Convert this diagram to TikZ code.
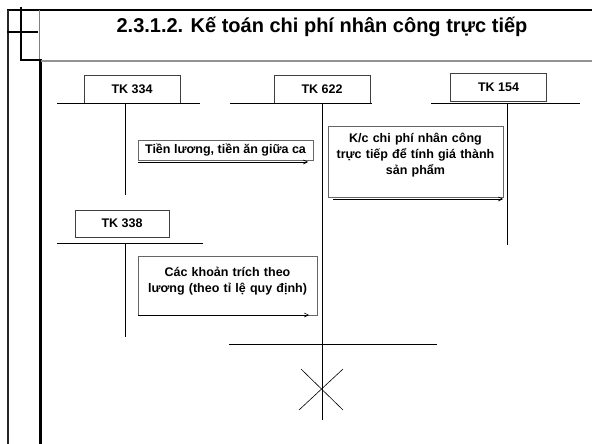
\documentclass[tikz,border=0pt]{standalone}
\usepackage{fontspec}
\setmainfont{Liberation Sans}
\usetikzlibrary{arrows.meta}
\tikzset{
  tkbox/.style={draw=black!75, line width=0.7pt, fill=white, minimum width=96pt, minimum height=28pt, inner sep=0pt, font=\bfseries\fontsize{12.5}{14}\selectfont},
  txtbox/.style={draw=black!60, line width=0.7pt, fill=white, inner sep=1pt, align=center, font=\bfseries\fontsize{12.5}{16}\selectfont},
  tline/.style={line width=0.8pt},
  arr/.style={line width=0.6pt, -{Straight Barb[length=4pt,width=4pt]}},
}
\begin{document}
\begin{tikzpicture}[x=1pt,y=-1pt]
\useasboundingbox (0,0) rectangle (592,444);
% frame
\draw[line width=2pt] (7,10) -- (592,10);
\draw[line width=1.6pt, black!85] (8,10) -- (8,444);
\draw[line width=1.5pt] (21,7) -- (21,60) -- (41,60);
\draw[line width=1.5pt] (7,32) -- (38,32);
\draw[line width=1pt, gray] (39,10) -- (39,60);
\draw[line width=3pt] (40,59) -- (40,444);
\draw[line width=1.5pt, gray!85] (41,61) -- (592,61);
% title
\node[font=\bfseries\fontsize{20}{22}\selectfont] (title) at (322,27) {2.3.1.2. Kế toán chi phí nhân công trực tiếp};
% T accounts
\node[tkbox] (tk334) at (132,89) {TK 334};
\node[tkbox] (tk622) at (322,89) {TK 622};
\node[tkbox] (tk154) at (498.5,87) {TK 154};
\node[tkbox, minimum width=94pt, minimum height=27pt] (tk338) at (122,223.5) {TK 338};
\coordinate (a334l) at (57,103); \coordinate (a334r) at (200,103);
\coordinate (a334t) at (125,103); \coordinate (a334b) at (125,195);
\coordinate (a622l) at (230,103); \coordinate (a622r) at (372,103);
\coordinate (a622t) at (322,103); \coordinate (a622b) at (322,420);
\coordinate (a154l) at (431,103); \coordinate (a154r) at (580,103);
\coordinate (a154t) at (507,103); \coordinate (a154b) at (507,245);
\coordinate (a338l) at (57,243); \coordinate (a338r) at (203,243);
\coordinate (a338t) at (125,243); \coordinate (a338b) at (125,337);
\coordinate (botl) at (229,344); \coordinate (botr) at (437,344);
\draw[tline] (a334l) -- (a334r); \draw[tline] (a334t) -- (a334b);
\draw[tline] (a622l) -- (a622r); \draw[tline] (a622t) -- (a622b);
\draw[tline] (a154l) -- (a154r); \draw[tline] (a154t) -- (a154b);
\draw[tline] (a338l) -- (a338r); \draw[tline] (a338t) -- (a338b);
\draw[tline] (botl) -- (botr);
% cross
\coordinate (x1) at (301,369); \coordinate (x2) at (343,410);
\coordinate (x3) at (343,369); \coordinate (x4) at (299,410);
\draw[line width=0.6pt] (x1) -- (x2);
\draw[line width=0.6pt] (x3) -- (x4);
% text boxes
\node[txtbox, minimum width=175pt, minimum height=20pt] (b1) at (225.5,150) {Tiền lương, tiền ăn giữa ca};
\node[txtbox, minimum width=175pt, minimum height=71pt, text width=173pt] (b2) at (415.5,161.5) {K/c chi phí nhân công\\trực tiếp để tính giá thành\\sản phẩm\\\mbox{}};
\node[txtbox, minimum width=179pt, minimum height=59pt, text width=177pt] (b3) at (227.5,285.5) {Các khoản trích theo\\lương (theo tỉ lệ quy định)\\[-4pt]\mbox{}};
% arrows
\coordinate (e1s) at (138,162); \coordinate (e1e) at (308,162);
\coordinate (e2s) at (333,199); \coordinate (e2e) at (503,199);
\coordinate (e3s) at (138,315); \coordinate (e3e) at (309,315);
\draw[arr] (e1s) -- (e1e);
\draw[arr] (e2s) -- (e2e);
\draw[arr] (e3s) -- (e3e);
\end{tikzpicture}
\end{document}
